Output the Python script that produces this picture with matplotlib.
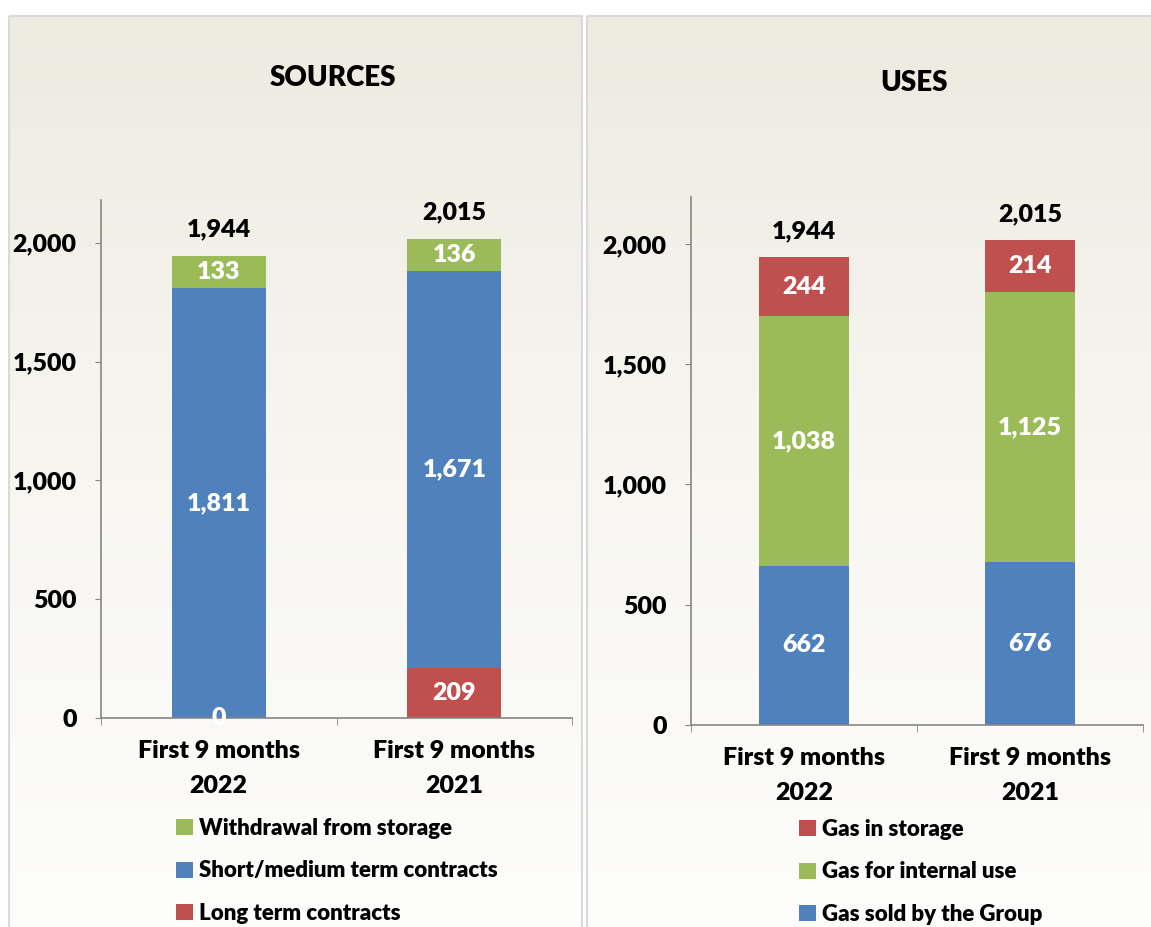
import numpy as np
import matplotlib
matplotlib.use("Agg")
import matplotlib.pyplot as plt
from matplotlib.patches import Rectangle
from matplotlib.colors import LinearSegmentedColormap

plt.rcParams['font.family'] = ['Lato', 'DejaVu Sans']
WT = 'heavy'
plt.rcParams['font.weight'] = WT

# data
categories = ["First 9 months\n2022", "First 9 months\n2021"]

src_long_term = [0, 209]
src_short_medium = [1811, 1671]
src_withdrawal = [133, 136]
src_totals = [1944, 2015]

use_sold = [662, 676]
use_internal = [1038, 1125]
use_storage = [244, 214]
use_totals = [1944, 2015]

blue = "#4F81BD"
red = "#C0504D"
green = "#9BBB59"
axis_grey = "#868686"
FS = 18

W, H = 1151, 927
fig = plt.figure(figsize=(W / 100, H / 100), dpi=100)
fig.patch.set_facecolor("white")

# panel backgrounds (gradient)
bg = fig.add_axes([0, 0, 1, 1], zorder=-10)
bg.set_xlim(0, W)
bg.set_ylim(H, 0)
bg.axis("off")
cmap = LinearSegmentedColormap.from_list("bgc", ["#EDEBE0", "#F7F6F1", "#FDFDFC"])
grad = np.linspace(0, 1, 256).reshape(-1, 1)
for x0, x1 in [(9, 582), (587, 1160)]:
    bg.imshow(grad, cmap=cmap, aspect="auto", extent=(x0, x1, 940, 16), zorder=0)
    bg.add_patch(Rectangle((x0, 16), x1 - x0, 940, fill=False, ec="#D9D9D9", lw=1.5, zorder=1))


def stacked(ax, segs, totals, ymax):
    x = np.arange(len(categories))
    bottom = np.zeros(len(categories))
    handles = []
    for vals, color, label in segs:
        vals = np.array(vals, dtype=float)
        b = ax.bar(x, vals, width=0.4, bottom=bottom, color=color, label=label, zorder=2)
        handles.append(b)
        for xi, v, bt in zip(x, vals, bottom):
            ax.text(xi, bt + v / 2, f"{int(v):,}", ha="center", va="center",
                    color="white", fontsize=FS, fontweight=WT, zorder=3)
        bottom = bottom + vals
    for xi, t, top in zip(x, totals, bottom):
        ax.annotate(f"{t:,}", (xi, top), xytext=(0, 19), textcoords="offset points",
                    ha="center", va="center", fontsize=FS, fontweight=WT, color="black")
    ax.set_xlim(-0.5, 1.5)
    ax.set_ylim(0, ymax)
    ax.set_facecolor("none")
    ax.set_yticks([0, 500, 1000, 1500, 2000])
    ax.set_yticklabels([f"{v:,}" for v in [0, 500, 1000, 1500, 2000]], fontsize=FS, fontweight=WT)
    ax.set_xticks(x)
    ax.set_xticklabels(categories, fontsize=FS, fontweight=WT, linespacing=1.7)
    ax.tick_params(axis="x", length=0, pad=16)
    ax.set_xticks([-0.5, 0.5, 1.5], minor=True)
    ax.tick_params(axis="x", which="minor", length=5, color=axis_grey, direction="out")
    ax.tick_params(axis="y", length=4.5, color=axis_grey, pad=13)
    for s in ["top", "right"]:
        ax.spines[s].set_visible(False)
    for s in ["left", "bottom"]:
        ax.spines[s].set_color(axis_grey)
        ax.spines[s].set_linewidth(1.2)
    return handles[::-1]


ax1 = fig.add_axes([101 / W, 1 - 718 / H, (572 - 101) / W, (718 - 200) / H])
h1 = stacked(ax1, [(src_long_term, red, "Long term contracts"),
                   (src_short_medium, blue, "Short/medium term contracts"),
                   (src_withdrawal, green, "Withdrawal from storage")],
             src_totals, 2180)
fig.text(333 / W, 1 - 78 / H, "SOURCES", ha="center", va="center", fontsize=20, fontweight=WT)
fig.legend(handles=h1, labels=[h.get_label() for h in h1], loc="upper left",
           bbox_to_anchor=(167 / W, 1 - 809 / H), frameon=False, fontsize=16,
           handlelength=0.75, handleheight=0.75, handletextpad=0.3, labelspacing=0.97,
           borderaxespad=0)

ax2 = fig.add_axes([691 / W, 1 - 725 / H, (1143 - 691) / W, (725 - 197) / H])
h2 = stacked(ax2, [(use_sold, blue, "Gas sold by the Group"),
                   (use_internal, green, "Gas for internal use"),
                   (use_storage, red, "Gas in storage")],
             use_totals, 2195)
fig.text(914 / W, 1 - 83 / H, "USES", ha="center", va="center", fontsize=20, fontweight=WT)
fig.legend(handles=h2, labels=[h.get_label() for h in h2], loc="upper left",
           bbox_to_anchor=(790 / W, 1 - 810 / H), frameon=False, fontsize=16,
           handlelength=0.75, handleheight=0.75, handletextpad=0.3, labelspacing=0.97,
           borderaxespad=0)

fig.savefig("out.png", dpi=100)
